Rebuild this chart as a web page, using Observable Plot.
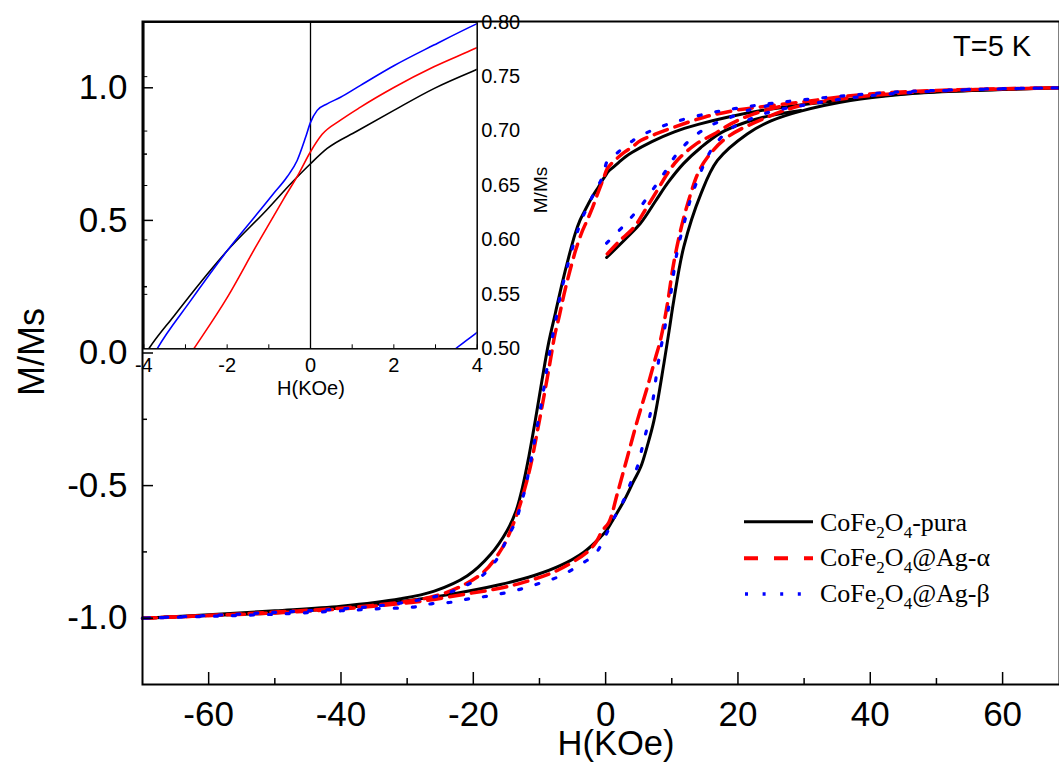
<!DOCTYPE html>
<html><head><meta charset="utf-8">
<script src="https://cdn.jsdelivr.net/npm/d3@7"></script>
<script src="https://cdn.jsdelivr.net/npm/@observablehq/plot@0.6"></script>
<style>
body{margin:0;background:#fff;}
#wrap{position:relative;width:1059px;height:765px;overflow:hidden;background:#fff;}
#wrap svg{position:absolute;left:0;top:0;}
</style></head><body><div id="wrap"></div>
<script>
// ---- data: [H (kOe), M/Ms] ----
const puraDesc = [[68.6,1.0],[60,0.994],[50,0.985],[44.6,0.977],[37,0.957],[30,0.937],[24.4,0.918],[18.4,0.889],[14,0.862],[10.3,0.833],[7,0.797],[3.96,0.756],[2.96,0.739],[2.0,0.719],[1.12,0.700],[0.4,0.684],[0,0.670],[-0.44,0.653],[-1.04,0.628],[-2.0,0.590],[-2.64,0.561],[-3.28,0.530],[-3.88,0.50],[-4.6,0.45],[-5.6,0.36],[-6.6,0.26],[-7.6,0.15],[-8.6,0.04],[-9.6,-0.10],[-10.6,-0.25],[-11.6,-0.39],[-12.6,-0.51],[-13.6,-0.60],[-14.9,-0.67],[-17.4,-0.76],[-20.9,-0.84],[-25.9,-0.898],[-31,-0.927],[-40,-0.955],[-50,-0.972],[-60,-0.987],[-70,-1.0]];
const puraAsc = [[-70,-1.0],[-60,-0.99],[-50,-0.98],[-40,-0.962],[-31,-0.937],[-24.4,-0.914],[-15.9,-0.873],[-10.8,-0.839],[-6.8,-0.801],[-3.3,-0.751],[-0.8,-0.695],[0.2,-0.667],[1.2,-0.625],[2.8,-0.556],[4.2,-0.485],[5.3,-0.43],[6.3,-0.35],[7.3,-0.255],[8.8,-0.041],[9.6,0.085],[10.3,0.198],[11.8,0.399],[14.4,0.60],[16.9,0.726],[21.4,0.826],[25,0.875],[29.5,0.912],[37,0.952],[44.6,0.975],[50,0.984],[60,0.994],[68.6,1.0]];
const puraVirgin = [[0.15,0.36],[3.0,0.43],[5.3,0.49],[7.6,0.575],[9.5,0.645],[11.8,0.715],[14.4,0.775],[17.4,0.83],[21.2,0.87],[24.9,0.895],[29.5,0.914]];

const alphaDesc = [[68.6,1.0],[60,0.996],[50,0.99],[44.6,0.984],[37,0.97],[29.5,0.946],[24,0.93],[19.4,0.914],[15,0.89],[10.3,0.851],[7.5,0.825],[5.3,0.801],[3.96,0.776],[2.96,0.759],[2.0,0.740],[1.2,0.722],[0.72,0.710],[0.28,0.697],[0,0.681],[-0.28,0.661],[-0.64,0.638],[-1.28,0.596],[-2.0,0.547],[-2.8,0.50],[-3.6,0.455],[-4.5,0.39],[-5.4,0.31],[-6.3,0.22],[-7.0,0.14],[-7.7,0.066],[-8.3,-0.02],[-9.3,-0.16],[-10.2,-0.28],[-11.3,-0.42],[-12.1,-0.50],[-13.3,-0.60],[-14.8,-0.695],[-16,-0.75],[-18.4,-0.825],[-22.3,-0.885],[-26.5,-0.921],[-31,-0.94],[-40,-0.962],[-50,-0.977],[-60,-0.99],[-70,-1.0]];
const alphaAsc = [[-70,-1.0],[-60,-0.99],[-50,-0.98],[-40,-0.965],[-31,-0.945],[-27,-0.933],[-20.9,-0.908],[-16.4,-0.889],[-12.3,-0.864],[-7.3,-0.82],[-2.8,-0.751],[-1.5,-0.715],[-0.5,-0.67],[0.5,-0.638],[1.76,-0.531],[3.28,-0.393],[4.79,-0.255],[6.3,-0.129],[7.56,-0.016],[8.3,0.05],[9.3,0.18],[10.3,0.34],[11.5,0.48],[12.85,0.60],[14,0.68],[15.4,0.738],[18.4,0.814],[24.4,0.889],[29.5,0.933],[37,0.962],[44.6,0.98],[50,0.988],[60,0.996],[68.6,1.0]];
const alphaVirgin = [[0.25,0.374],[2,0.42],[4.28,0.474],[6,0.54],[7.8,0.613],[9.3,0.675],[10.8,0.726],[13.5,0.785],[16.4,0.826],[19,0.865],[22.4,0.902],[27,0.933]];

const betaDesc = [[68.6,1.0],[60,0.997],[50,0.99],[44.6,0.985],[37,0.972],[27,0.947],[20.9,0.927],[15.4,0.903],[9.8,0.866],[6,0.828],[4.3,0.804],[3.96,0.798],[2.96,0.779],[2.0,0.760],[1.2,0.742],[0.72,0.731],[0.4,0.725],[0.16,0.719],[0,0.708],[-0.12,0.694],[-0.32,0.673],[-0.56,0.658],[-0.9,0.642],[-1.28,0.624],[-2.0,0.590],[-2.88,0.544],[-3.68,0.50],[-4.1,0.47],[-4.8,0.415],[-5.54,0.35],[-6.2,0.285],[-6.8,0.223],[-7.5,0.13],[-8.3,0.025],[-9.07,-0.09],[-9.57,-0.17],[-10.1,-0.245],[-10.6,-0.311],[-11.1,-0.38],[-12.1,-0.505],[-12.85,-0.575],[-13.6,-0.635],[-14.9,-0.70],[-16.4,-0.776],[-18.9,-0.845],[-21.7,-0.883],[-24.2,-0.908],[-29,-0.935],[-35,-0.955],[-40,-0.965],[-50,-0.978],[-60,-0.99],[-70,-1.0]];
const betaAsc = [[-70,-1.0],[-60,-0.993],[-50,-0.985],[-40,-0.972],[-35,-0.965],[-29,-0.958],[-26.2,-0.945],[-23.4,-0.94],[-20.7,-0.927],[-17.9,-0.917],[-15.1,-0.904],[-12.35,-0.887],[-9.8,-0.867],[-7.05,-0.843],[-4.28,-0.805],[-1.5,-0.755],[0,-0.688],[1.26,-0.623],[2.77,-0.553],[3.78,-0.49],[4.89,-0.422],[5.54,-0.355],[6.2,-0.289],[6.8,-0.223],[7.3,-0.154],[7.66,-0.085],[8.06,-0.022],[8.56,0.047],[9.57,0.179],[10.8,0.38],[12.1,0.512],[12.85,0.581],[14.9,0.713],[16.4,0.782],[18.9,0.845],[21.4,0.877],[25,0.91],[30,0.935],[37,0.962],[44.6,0.98],[50,0.988],[60,0.996],[68.6,1.0]];
const betaVirgin = [[0.15,0.414],[1.5,0.448],[2.77,0.481],[3.48,0.50],[3.96,0.514],[5.04,0.544],[7.05,0.613],[8.8,0.676],[10.6,0.745],[13.1,0.811],[15.9,0.858],[18.9,0.889],[21.4,0.914],[25,0.935]];

// ticks
const xMajor = [-60,-40,-20,0,20,40,60];
const xMinor = [-50,-30,-10,10,30,50];
const yMajor = [-1,-0.5,0,0.5,1];
const yMinor = [-0.75,-0.25,0.25,0.75];
const insetXTicks = [-4,-3,-2,-1,1,2,3,4];
const insetXLabels = [-4,-2,0,2,4];
const insetYLabels = [0.5,0.55,0.6,0.65,0.7,0.75,0.8];
const insetYLeftTicks = [0.55,0.6,0.65,0.7,0.75];

// ---- build table ----
const rows = [];
function add(series, branch, pts){ pts.forEach(([H,M]) => rows.push({series, key: series + "-" + branch, H, M})); }
add("pura","desc",puraDesc); add("pura","asc",puraAsc); add("pura","virgin",puraVirgin);
add("alpha","desc",alphaDesc); add("alpha","asc",alphaAsc); add("alpha","virgin",alphaVirgin);
add("beta","desc",betaDesc); add("beta","asc",betaAsc); add("beta","virgin",betaVirgin);

const FONT = "Liberation Sans, Arial, Helvetica, sans-serif";
const sel = s => rows.filter(d => d.series === s);

const main = Plot.plot({
  width: 1059, height: 765,
  marginLeft: 142, marginRight: 0, marginTop: 21, marginBottom: 81,
  x: {domain: [-70, 68.6], label: null},
  y: {domain: [-1.25, 1.25], label: null},
  style: {background: "none", fontFamily: FONT, color: "#000", overflow: "visible"},
  marks: [
    Plot.line(sel("pura"), {x: "H", y: "M", z: "key", stroke: "#000", strokeWidth: 3, curve: "catmull-rom"}),
    Plot.line(sel("alpha"), {x: "H", y: "M", z: "key", stroke: "#ff0000", strokeWidth: 3.5, strokeDasharray: "14,8", curve: "catmull-rom"}),
    Plot.line(sel("beta"), {x: "H", y: "M", z: "key", stroke: "#0000ff", strokeWidth: 3.2, strokeDasharray: "3,15", curve: "catmull-rom"}),
    Plot.axisX({ticks: xMinor, tickSize: -6, tickFormat: () => "", strokeWidth: 1.5, label: null}),
    Plot.axisX({ticks: xMajor, tickSize: -12, tickFormat: () => "", strokeWidth: 1.5, label: null}),
    Plot.axisX({ticks: xMajor, tickSize: 0, tickPadding: 17, fontSize: 35, tickFormat: d => String(d), label: null}),
    Plot.axisY({ticks: yMinor, tickSize: -5, tickFormat: () => "", strokeWidth: 1.5, label: null}),
    Plot.axisY({ticks: yMajor, tickSize: -11, tickFormat: () => "", strokeWidth: 1.5, label: null}),
    Plot.axisY({ticks: yMajor, tickSize: 0, tickPadding: 15, fontSize: 35, tickFormat: d => d.toFixed(1), label: null}),
    Plot.frame({strokeWidth: 2})
  ]
});

const inset = Plot.plot({
  width: 600, height: 420,
  marginLeft: 143.3, marginRight: 123.3, marginTop: 21.7, marginBottom: 71.7,
  x: {domain: [-4, 4], label: null},
  y: {domain: [0.5, 0.8], label: null},
  style: {background: "none", fontFamily: FONT, color: "#000", overflow: "visible"},
  marks: [
    Plot.ruleX([0], {strokeWidth: 1.3}),
    Plot.line(sel("pura"), {x: "H", y: "M", z: "key", stroke: "#000", strokeWidth: 1.6, curve: "monotone-x", clip: true}),
    Plot.line(sel("alpha"), {x: "H", y: "M", z: "key", stroke: "#ff0000", strokeWidth: 1.6, curve: "monotone-x", clip: true}),
    Plot.line(sel("beta"), {x: "H", y: "M", z: "key", stroke: "#0000ff", strokeWidth: 1.6, curve: "monotone-x", clip: true}),
    Plot.axisX({ticks: insetXTicks, tickSize: -4, tickFormat: () => "", label: null}),
    Plot.axisX({ticks: insetXLabels, tickSize: 0, tickPadding: 9, fontSize: 20, tickFormat: d => String(d), label: null}),
    Plot.axisY({anchor: "left", ticks: insetYLeftTicks, tickSize: -4, tickFormat: () => "", label: null}),
    Plot.axisY({anchor: "right", ticks: insetYLabels, tickSize: 0, tickPadding: 4, fontSize: 20, tickFormat: d => d.toFixed(2), label: null}),
    Plot.frame({strokeWidth: 1.5})
  ]
});

const wrap = document.getElementById("wrap");
wrap.appendChild(main);
wrap.appendChild(inset);

// overlay texts and legend
const NS = "http://www.w3.org/2000/svg";
const ov = document.createElementNS(NS, "svg");
ov.setAttribute("width", 1059); ov.setAttribute("height", 765);
ov.setAttribute("font-family", FONT);
ov.innerHTML = `
  <text x="616" y="755" text-anchor="middle" font-size="34.5">H(KOe)</text>
  <text transform="translate(44,352) rotate(-90)" text-anchor="middle" font-size="36">M/Ms</text>
  <text x="953" y="56" font-size="29">T=5 K</text>
  <text x="311" y="395" text-anchor="middle" font-size="20">H(KOe)</text>
  <text transform="translate(547,190) rotate(-90)" text-anchor="middle" font-size="19">M/Ms</text>
  <g font-family="Liberation Serif, Times New Roman, serif" font-size="26">
    <line x1="744" x2="813" y1="521.7" y2="521.7" stroke="#000" stroke-width="3"/>
    <line x1="744" x2="813" y1="558.3" y2="558.3" stroke="#ff0000" stroke-width="4" stroke-dasharray="14,16"/>
    <line x1="745" x2="813" y1="594" y2="594" stroke="#0000ff" stroke-width="3.5" stroke-dasharray="3,14.6"/>
    <text x="820" y="530.5">CoFe<tspan font-size="17" dy="7">2</tspan><tspan dy="-7">O</tspan><tspan font-size="17" dy="7">4</tspan><tspan dy="-7">-pura</tspan></text>
    <text x="820" y="566">CoFe<tspan font-size="17" dy="7">2</tspan><tspan dy="-7">O</tspan><tspan font-size="17" dy="7">4</tspan><tspan dy="-7">@Ag-α</tspan></text>
    <text x="820" y="601.7">CoFe<tspan font-size="17" dy="7">2</tspan><tspan dy="-7">O</tspan><tspan font-size="17" dy="7">4</tspan><tspan dy="-7">@Ag-β</tspan></text>
  </g>`;
wrap.appendChild(ov);
</script>
</body></html>
